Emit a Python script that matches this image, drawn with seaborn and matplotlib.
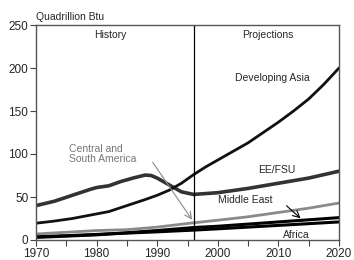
import matplotlib
matplotlib.use("Agg")
import matplotlib.pyplot as plt
import seaborn as sns
import pandas as pd
from matplotlib.ticker import MultipleLocator

sns.set_theme(style="white")
plt.rcParams['font.family'] = ['Liberation Sans', 'DejaVu Sans']

asia_years = [1970, 1973, 1976, 1979, 1982, 1985, 1988, 1990, 1992, 1994, 1996,
              1998, 2000, 2002.5, 2005, 2007.5, 2010, 2012.5, 2015, 2017.5, 2020]
asia_vals = [19.5, 22, 25, 29, 33, 40, 47, 52, 58, 66, 76,
             85, 93, 103, 113, 125, 137, 150, 164, 181, 200]

eefsu_years = [1970, 1973, 1976, 1979, 1980, 1982, 1984, 1986, 1988, 1989, 1990, 1992, 1994, 1996, 2000, 2005, 2010, 2015, 2020]
eefsu_vals = [40, 45, 52, 59, 61, 63, 68, 72, 75.5, 75, 72, 64, 56, 53, 55, 60, 66, 72, 80]

csa_years = [1970, 1975, 1980, 1985, 1990, 1996, 2000, 2005, 2010, 2015, 2020]
csa_vals = [7, 9, 11, 12, 15, 20, 23, 27, 32, 37, 43]

me_years = [1970, 1975, 1980, 1985, 1990, 1996, 2000, 2005, 2010, 2015, 2020]
me_vals = [3, 4.5, 6, 8.5, 11, 14.5, 16, 18.5, 21, 23.5, 26]

africa_years = [1970, 1975, 1980, 1985, 1990, 1996, 2000, 2005, 2010, 2015, 2020]
africa_vals = [4, 5, 6.5, 8, 9.5, 11.5, 13, 15, 17, 19, 21]

fig = plt.figure(figsize=(3.54, 2.60), dpi=100)
ax = fig.add_axes([36/354, 20/260, 303/354, 215/260])

sns.lineplot(x=africa_years, y=africa_vals, ax=ax, color="black", lw=2.2)
sns.lineplot(x=me_years, y=me_vals, ax=ax, color="black", lw=2.2)
sns.lineplot(x=csa_years, y=csa_vals, ax=ax, color="#8a8a8a", lw=2.0)
sns.lineplot(x=eefsu_years, y=eefsu_vals, ax=ax, color="#333333", lw=2.6)
sns.lineplot(x=asia_years, y=asia_vals, ax=ax, color="#111111", lw=2.0)

ax.axvline(1996, color="black", lw=0.9)

ax.set_xlim(1970, 2020)
ax.set_ylim(0, 250)
ax.xaxis.set_major_locator(MultipleLocator(10))
ax.xaxis.set_minor_locator(MultipleLocator(5))
ax.yaxis.set_major_locator(MultipleLocator(50))
ax.tick_params(axis="both", which="both", direction="out", length=4, width=0.8,
               color="#444444", labelsize=8.5, pad=1.5, bottom=True, left=True)
for s in ax.spines.values():
    s.set_color("#555555")
    s.set_linewidth(1.0)
ax.set_xlabel("")
ax.set_ylabel("")

fs = 7.5
ax.text(1970, 253, "Quadrillion Btu", fontsize=fs, ha="left", va="bottom", transform=ax.transData, clip_on=False)
ax.text(1982.3, 238, "History", fontsize=fs, ha="center", va="center")
ax.text(2008.2, 238, "Projections", fontsize=fs, ha="center", va="center")
ax.text(2009, 188, "Developing Asia", fontsize=fs, ha="center", va="center")
ax.text(2009.8, 81.5, "EE/FSU", fontsize=fs, ha="center", va="center")
ax.text(2004.5, 46, "Middle East", fontsize=fs, ha="center", va="center")
ax.text(2013, 6, "Africa", fontsize=fs, ha="center", va="center")
ax.text(1975.5, 100, "Central and\nSouth America", fontsize=fs, ha="left", va="center",
        color="#777777", linespacing=1.0)
ax.annotate("", xy=(1996, 21), xytext=(1989, 93),
            arrowprops=dict(arrowstyle="->", color="#888888", lw=0.8))
ax.annotate("", xy=(2014, 23), xytext=(2011, 42),
            arrowprops=dict(arrowstyle="->", color="black", lw=0.8))

fig.savefig("out.png", dpi=100)
